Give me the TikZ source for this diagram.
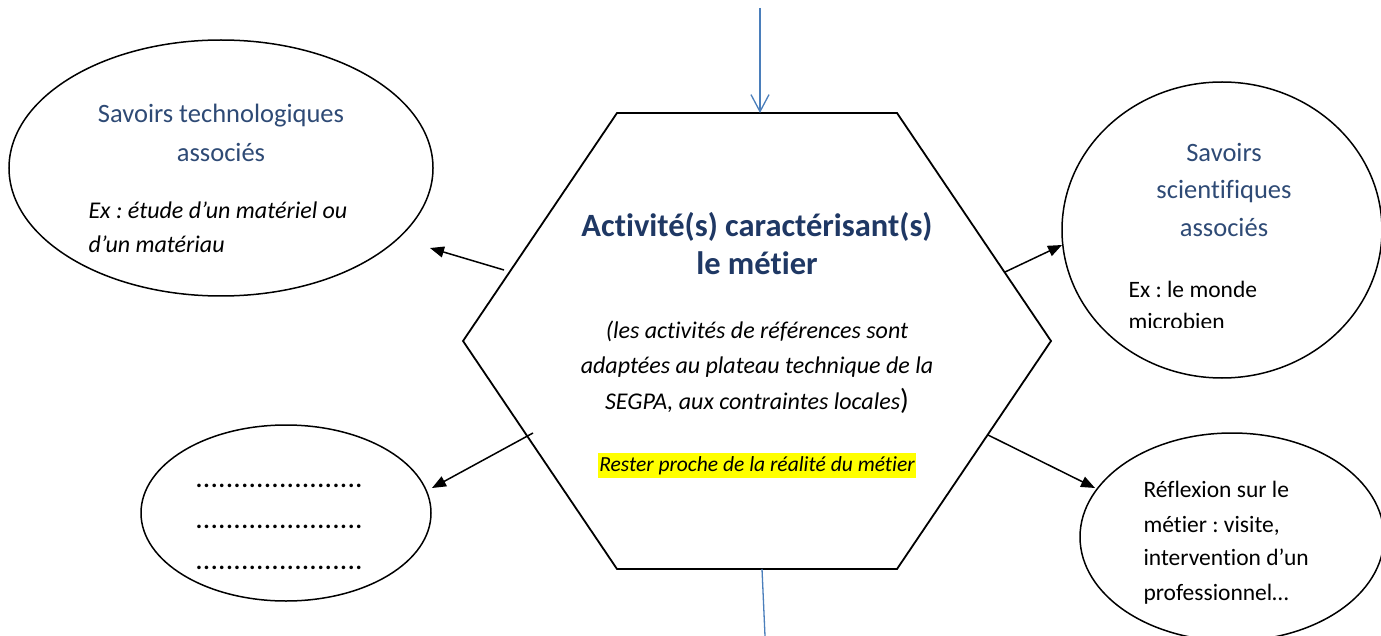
\documentclass[tikz,border=0pt]{standalone}
\usepackage{fontspec}
\setmainfont{Carlito}[Ligatures=NoCommon]
\usetikzlibrary{arrows.meta,shapes.geometric}
\definecolor{navy}{HTML}{1F3864}
\definecolor{headblue}{HTML}{2E4A75}
\definecolor{lineblue}{HTML}{4A7EBB}
\definecolor{hl}{HTML}{FFFF00}
\frenchspacing
\begin{document}
\begin{tikzpicture}[x=1pt,y=-1pt,
  oval/.style={ellipse, draw=black, line width=1.5pt, inner sep=0pt},
  conn/.style={draw=black, line width=1.5pt, -{Triangle[length=14pt,width=11pt]}},
  bluelink/.style={draw=lineblue, line width=1.3pt},
  headtxt/.style={text=headblue, font=\fontsize{26.5}{32}\selectfont, anchor=mid},
  bodytxt/.style={text=black, font=\fontsize{23.5}{28}\selectfont, anchor=mid},
  bodyit/.style={text=black, font=\fontsize{24}{28}\selectfont\itshape, anchor=mid},
  titletxt/.style={text=navy, font=\fontsize{32.5}{36}\selectfont\bfseries, anchor=mid},
  dotline/.style={text=black, font=\fontsize{24}{28}\selectfont\bfseries\addfontfeature{LetterSpace=5}, anchor=mid}]
\useasboundingbox (0,0) rectangle (1381,636);
\clip (0,0) rectangle (1381,636);

% hexagon
\coordinate (h1) at (617,113);
\coordinate (h2) at (897,113);
\coordinate (h3) at (1051,341);
\coordinate (h4) at (897,569);
\coordinate (h5) at (617,569);
\coordinate (h6) at (463,341);
\draw[line width=1.8pt, line join=miter] (h1) -- (h2) -- (h3) -- (h4) -- (h5) -- (h6) -- cycle;

% ellipses
\node[oval, minimum width=424pt, minimum height=256pt] (tl) at (221,168) {};
\node[oval, minimum width=320pt, minimum height=296pt] (tr) at (1222,230) {};
\node[oval, minimum width=290pt, minimum height=176pt] (bl) at (286,513) {};
\node[oval, minimum width=304pt, minimum height=208pt] (br) at (1232,537) {};

% top-left texts
\node[headtxt] (tlh1) at (221,120) {Savoirs technologiques};
\node[headtxt] (tlh2) at (221,159) {associés};
\node[bodyit, anchor=mid west] (tlb1) at (85,216) {Ex : étude d’un matériel ou};
\node[bodyit, anchor=mid west] (tlb2) at (85,250) {d’un matériau};

% top-right texts
\node[headtxt] (trh1) at (1224,159) {Savoirs};
\node[headtxt] (trh2) at (1224,196) {scientifiques};
\node[headtxt] (trh3) at (1224,234) {associés};
\node[bodytxt, anchor=mid west] (trb1) at (1125,295) {Ex : le monde};
\begin{scope}
\clip (1100,300) rectangle (1381,327);
\node[bodytxt, anchor=mid west] (trb2) at (1125,327) {microbien};
\end{scope}

% bottom-right texts
\node[bodytxt, anchor=mid west] (brt1) at (1140,495) {Réflexion sur le};
\node[bodytxt, anchor=mid west] (brt2) at (1140,530) {métier : visite,};
\node[bodytxt, anchor=mid west] (brt3) at (1140,563) {intervention d’un};
\node[bodytxt, anchor=mid west] (brt4) at (1140,598) {professionnel…};

% bottom-left dotted lines
\node[dotline] (bld1) at (279,485) {......................};
\node[dotline] (bld2) at (279,526) {......................};
\node[dotline] (bld3) at (279,567) {......................};

% hexagon texts
\node[titletxt] (ti1) at (757,234) {Activité(s) caractérisant(s)};
\node[titletxt] (ti2) at (757,272) {le métier};
\node[bodyit] (hx1) at (757,336) {(les activités de références sont};
\node[bodyit] (hx2) at (757,371) {adaptées au plateau technique de la};
\node[bodyit] (hx3) at (757,407) {SEGPA, aux contraintes locales{\upshape\fontsize{29}{30}\selectfont )}};
\node[fill=hl, text=black, font=\fontsize{21.5}{24}\selectfont\itshape, anchor=mid, inner xsep=1pt, inner ysep=3.5pt] (hxh) at (757,469) {Rester proche de la réalité du métier};

% connectors
\coordinate (a1s) at (504,270);
\coordinate (a1e) at (430,248);
\coordinate (a2s) at (533,433);
\coordinate (a2e) at (432,488);
\coordinate (a3s) at (1005,272);
\coordinate (a3e) at (1062,245);
\coordinate (a4s) at (988,435);
\coordinate (a4e) at (1095,488);
\draw[conn] (a1s) -- (a1e);
\draw[conn] (a2s) -- (a2e);
\draw[conn] (a3s) -- (a3e);
\draw[conn] (a4s) -- (a4e);

\coordinate (ts) at (760,8);
\coordinate (ht) at (760,113);
\coordinate (hb) at (762,569);
\coordinate (be) at (765,636);
\draw[bluelink, -{Straight Barb[length=17pt,width=18pt]}] (ts) -- (ht);
\draw[bluelink] (hb) -- (be);
\end{tikzpicture}
\end{document}
